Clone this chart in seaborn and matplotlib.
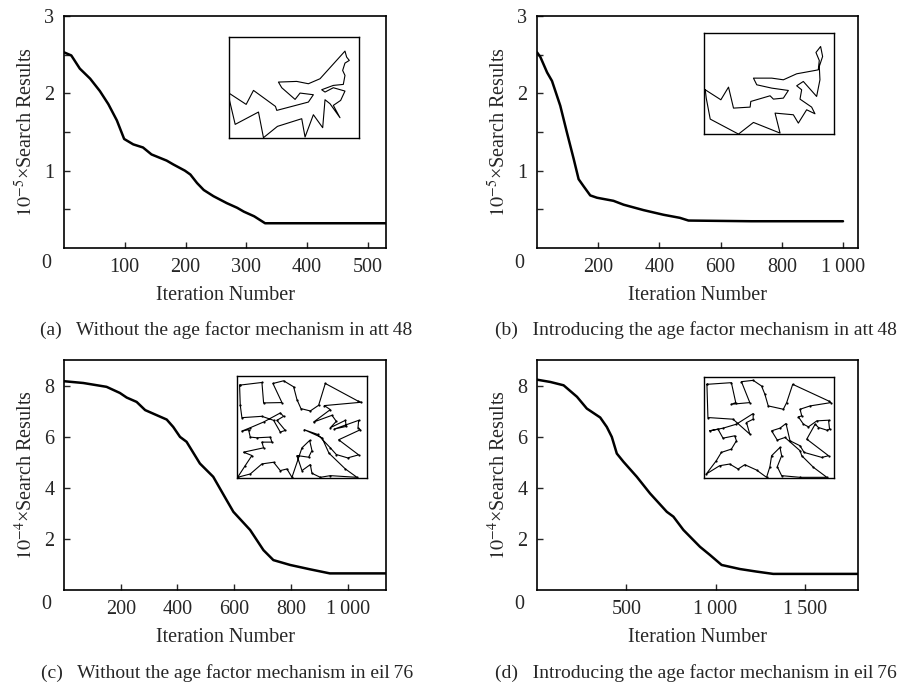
import numpy as np
import pandas as pd
import matplotlib
matplotlib.use("Agg")
import matplotlib.pyplot as plt
import seaborn as sns

# convergence curves
iter_a = [0, 12, 26, 43, 59, 73, 87, 99, 114, 130, 144, 169, 180, 199, 208, 219, 230, 246, 268, 285, 296, 313, 331, 530]
val_a = [2.53, 2.49, 2.32, 2.19, 2.03, 1.86, 1.65, 1.41, 1.34, 1.30, 1.21, 1.13, 1.08, 1.00, 0.95, 0.84, 0.75, 0.67, 0.58, 0.52, 0.47, 0.41, 0.32, 0.32]

iter_b = [0, 11, 33, 49, 76, 98, 120, 136, 152, 174, 196, 250, 283, 348, 413, 467, 495, 700, 1000]
val_b = [2.53, 2.47, 2.27, 2.16, 1.84, 1.49, 1.15, 0.89, 0.80, 0.68, 0.65, 0.61, 0.56, 0.49, 0.43, 0.39, 0.355, 0.346, 0.346]

iter_c = [0, 68, 150, 197, 221, 256, 286, 327, 362, 385, 409, 432, 479, 526, 573, 597, 656, 703, 738, 797, 867, 937, 1135]
val_c = [8.17, 8.10, 7.95, 7.71, 7.53, 7.36, 7.04, 6.84, 6.67, 6.38, 5.99, 5.80, 4.95, 4.43, 3.52, 3.06, 2.35, 1.56, 1.17, 0.98, 0.81, 0.65, 0.65]

iter_d = [0, 75, 149, 224, 279, 354, 391, 419, 447, 484, 559, 633, 727, 764, 820, 913, 969, 1034, 1137, 1230, 1323, 1800]
val_d = [8.23, 8.14, 8.01, 7.56, 7.10, 6.75, 6.38, 5.99, 5.34, 5.02, 4.43, 3.78, 3.06, 2.87, 2.35, 1.69, 1.37, 0.98, 0.82, 0.72, 0.63, 0.63]

# tours in the insets (box units, y downward)
tour_a_x = [686, 738, 760, 826, 830, 925, 940, 900, 885, 845, 835, 890, 925, 960, 1035, 1040, 1048, 1035, 1028, 1035, 1030, 1000, 965, 975, 1000, 1035, 1022, 1000, 1020, 990, 975, 968, 940, 915, 905, 832, 790, 775, 705, 688, 686]
tour_a_y = [278, 312, 270, 318, 330, 305, 283, 278, 297, 262, 245, 243, 250, 235, 152, 170, 180, 188, 210, 225, 252, 255, 268, 275, 262, 272, 300, 315, 352, 310, 298, 382, 343, 410, 355, 378, 412, 335, 372, 300, 278]
box_a = (686, 1077, 110, 413)

tour_b_x = [765, 812, 835, 850, 900, 902, 960, 970, 1000, 1015, 965, 920, 910, 965, 1000, 1040, 1095, 1105, 1108, 1098, 1112, 1118, 1108, 1110, 1100, 1060, 1040, 1055, 1050, 1085, 1095, 1070, 1045, 1030, 975, 990, 910, 865, 780, 768, 765]
tour_b_y = [270, 300, 262, 325, 322, 305, 288, 298, 295, 272, 265, 255, 235, 235, 240, 222, 212, 210, 182, 158, 140, 170, 200, 240, 290, 245, 258, 270, 298, 322, 342, 330, 370, 345, 340, 400, 368, 403, 358, 295, 270]
box_b = (762, 1153, 100, 403)

tour_c_x = [28, 95, 100, 155, 128, 160, 190, 200, 212, 240, 265, 285, 382, 393, 282, 300, 250, 305, 318, 300, 345, 348, 312, 385, 383, 390, 325, 385, 352, 318, 300, 262, 222, 275, 296, 345, 380, 300, 270, 245, 240, 215, 200, 235, 245, 238, 215, 185, 170, 150, 130, 95, 60, 22, 45, 65, 40, 100, 95, 125, 120, 80, 60, 55, 35, 60, 100, 150, 160, 140, 165, 150, 130, 95, 35, 30, 28]
tour_c_y = [135, 127, 188, 187, 130, 122, 140, 178, 205, 212, 195, 130, 182, 186, 196, 208, 245, 225, 243, 262, 240, 258, 266, 240, 262, 268, 298, 343, 352, 342, 322, 282, 268, 292, 338, 385, 410, 405, 410, 398, 372, 390, 345, 350, 330, 300, 322, 410, 385, 390, 365, 370, 400, 410, 375, 345, 335, 322, 305, 305, 290, 292, 290, 268, 272, 262, 245, 218, 228, 240, 270, 275, 240, 228, 232, 195, 135]
box_c = (20, 410, 108, 412)

tour_d_x = [22, 95, 108, 95, 150, 125, 160, 185, 195, 205, 250, 260, 278, 385, 392, 330, 300, 305, 295, 310, 325, 350, 385, 388, 380, 355, 345, 320, 385, 365, 312, 300, 270, 258, 240, 215, 232, 255, 300, 305, 340, 380, 300, 245, 232, 245, 240, 215, 210, 200, 170, 135, 115, 90, 60, 20, 50, 65, 95, 110, 105, 70, 55, 30, 70, 110, 160, 160, 140, 150, 100, 25, 22]
tour_d_y = [130, 125, 185, 190, 185, 122, 118, 135, 160, 195, 205, 185, 130, 180, 185, 195, 205, 225, 228, 250, 258, 240, 238, 265, 268, 260, 250, 295, 345, 350, 335, 315, 300, 248, 262, 270, 298, 290, 330, 345, 380, 410, 410, 405, 378, 345, 320, 345, 378, 410, 388, 372, 385, 370, 375, 400, 360, 335, 325, 300, 285, 292, 265, 270, 262, 250, 218, 235, 245, 280, 235, 230, 130]
box_d = (14, 402, 108, 412)

sns.set_style("ticks")
plt.rcParams["font.family"] = ["Liberation Serif", "DejaVu Serif"]
plt.rcParams["mathtext.fontset"] = "stix"

W, H = 900, 684
fig = plt.figure(figsize=(9, 6.84), dpi=100)


def px_rect(l, t, r, b):
    return [l / W, (H - b) / H, (r - l) / W, (b - t) / H]


def panel(rect, it, val, xmax, ymax, xticks, xlabels, yticks, yminor, ylab,
          tx, ty, box, inset, dots, caption, cap_x, cap_y, cap_ha):
    ax = fig.add_axes(px_rect(*rect))
    sns.lineplot(x=it, y=val, ax=ax, color="black", linewidth=1.8)
    ax.set_xlim(0, xmax)
    ax.set_ylim(0, ymax)
    ax.set_xticks(xticks)
    ax.set_xticklabels(xlabels)
    ax.set_yticks(yticks)
    ax.set_yticklabels([str(v) for v in yticks])
    if yminor:
        ax.set_yticks(yminor, minor=True)
    ax.tick_params(direction="in", length=4, width=1, labelsize=14.5, pad=7)
    ax.tick_params(which="minor", direction="in", length=4, width=1)
    for s in ax.spines.values():
        s.set_linewidth(1.2)
        s.set_color("black")
    ax.set_xlabel("Iteration Number", fontsize=14.5, labelpad=7)
    ax.set_ylabel(ylab, fontsize=14.5, labelpad=5)
    ax.text(-0.04, -0.065, "0", transform=ax.transAxes, fontsize=14.5,
            ha="right", va="center")
    ins = ax.inset_axes(inset)
    sns.lineplot(x=tx, y=ty, sort=False, estimator=None, ax=ins, color="black",
                 linewidth=0.8, marker="o" if dots else None, markersize=1.6,
                 markeredgewidth=0)
    ins.set_xlim(box[0], box[1])
    ins.set_ylim(box[3], box[2])
    ins.set_xticks([])
    ins.set_yticks([])
    ins.set_xlabel("")
    ins.set_ylabel("")
    for s in ins.spines.values():
        s.set_linewidth(1.0)
        s.set_color("black")
    fig.text(cap_x / W, 1 - cap_y / H, caption, fontsize=14, ha=cap_ha, va="center")


ylab5 = r"$10^{-5}$×Search Results"
ylab4 = r"$10^{-4}$×Search Results"
k = "1\u2009000"

panel((64, 16, 386, 248), iter_a, val_a, 530, 3, [100, 200, 300, 400, 500],
      ["100", "200", "300", "400", "500"], [1, 2, 3], [0.5, 1.5, 2.5], ylab5,
      tour_a_x, tour_a_y, box_a, [0.512, 0.474, 0.404, 0.435], False,
      "(a)   Without the age factor mechanism in att\u200948", 226, 330, "center")
panel((537, 16, 858, 248), iter_b, val_b, 1049, 3, [200, 400, 600, 800, 1000],
      ["200", "400", "600", "800", k], [1, 2, 3], [0.5, 1.5, 2.5], ylab5,
      tour_b_x, tour_b_y, box_b, [0.521, 0.491, 0.405, 0.435], False,
      "(b)   Introducing the age factor mechanism in att\u200948", 897, 330, "right")
panel((64, 360, 386, 590), iter_c, val_c, 1135, 9, [200, 400, 600, 800, 1000],
      ["200", "400", "600", "800", k], [2, 4, 6, 8], None, ylab4,
      tour_c_x, tour_c_y, box_c, [0.537, 0.487, 0.404, 0.443], True,
      "(c)   Without the age factor mechanism in eil\u200976", 227, 673, "center")
panel((537, 360, 858, 590), iter_d, val_d, 1798, 9, [500, 1000, 1500],
      ["500", k, "1\u2009500"], [2, 4, 6, 8], None, ylab4,
      tour_d_x, tour_d_y, box_d, [0.521, 0.487, 0.405, 0.439], True,
      "(d)   Introducing the age factor mechanism in eil\u200976", 897, 673, "right")

fig.savefig("out.png", dpi=100)
